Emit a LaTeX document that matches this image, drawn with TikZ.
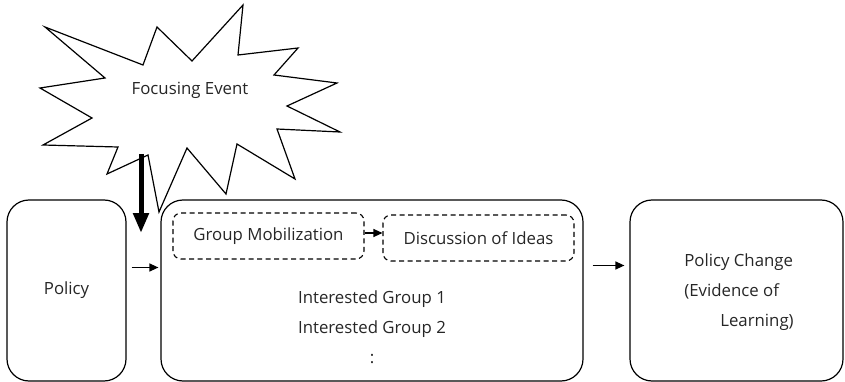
\documentclass[tikz,border=0pt]{standalone}
\usepackage{fontspec}
\setmainfont{Open Sans}
\usetikzlibrary{arrows,arrows.meta,positioning}

\begin{document}
\begin{tikzpicture}[x=1pt,y=-1pt,
  lbl/.style={text=black!85,font=\fontsize{16.8}{30}\selectfont},
  stagebox/.style={draw,line width=1.2pt,rounded corners=22pt,minimum height=181pt},
  ideabox/.style={draw,line width=1.1pt,dash pattern=on 5pt off 3.5pt,rounded corners=8pt,
    minimum width=191pt,minimum height=46pt},
  flow/.style={line width=1.2pt,-{Triangle[width=8pt,length=9pt]}}]
\useasboundingbox (0,0) rectangle (845,382);

% the focusing event
\draw[line width=1.2pt] (45,27) -- (143,65) -- (157,27) -- (192,61) -- (243,5) -- (238,55)
  -- (298,48) -- (274,75) -- (337,83) -- (287,106) -- (340,132) -- (277,129)
  -- (295,179) -- (237,144) -- (226,194) -- (187,148) -- (159,212) -- (148,155)
  -- (107,174) -- (118,147) -- (43,145) -- (92,118) -- (40,88) -- (105,78) -- cycle;
\node[lbl] (event) at (190,90) {Focusing Event};

% the three stages
\node[stagebox,minimum width=119pt] (policy) at (66.5,290.5) {};
\node[lbl] at (policy) {Policy};
\node[stagebox,minimum width=422pt] (groups) at (372,290.5) {};
\node[stagebox,minimum width=213pt] (change) at (736.5,290.5) {};
\node[lbl,align=left] (changetxt) at (739,292) {Policy Change\\(Evidence of\\\hspace*{36pt}Learning)};

% inside the groups stage
\node[ideabox,lbl] (mobil) at (268.5,236) {Group Mobilization};
\node[ideabox,lbl] (ideas) at (478.5,238) {Discussion of Ideas};
\node[lbl,align=center] (members) at (372,327) {Interested Group 1\\Interested Group 2\\:};

% arrows
\coordinate (hit) at (141,154);
\coordinate (drop) at (141,233);
\draw[line width=5pt,-{Triangle[width=15pt,length=20pt]}] (hit) -- (drop);
\draw[flow] ([xshift=5pt,yshift=23pt]policy.east) -- ([xshift=-2pt,yshift=23pt]groups.west);
\draw[flow] ([yshift=3pt]mobil.east) -- ([yshift=3pt]mobil.east -| ideas.west);
\draw[flow] ([xshift=9pt,yshift=25pt]groups.east) -- ([xshift=-5pt,yshift=25pt]change.west);
\end{tikzpicture}
\end{document}
